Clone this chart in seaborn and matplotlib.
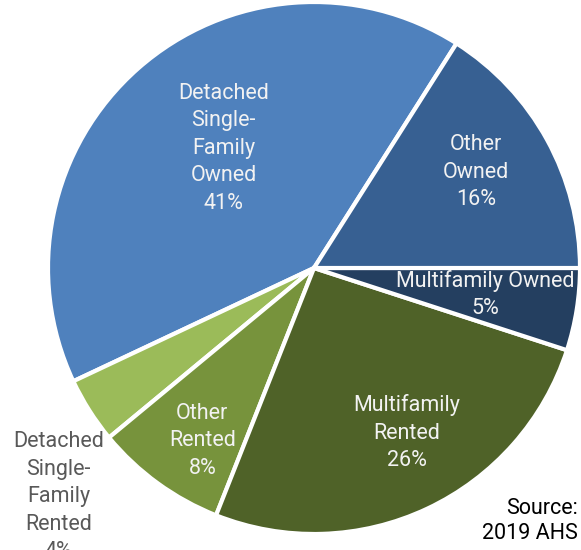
"""Housing stock by tenure and structure type (2019 AHS) as a pie chart."""

import matplotlib
matplotlib.use("Agg")
import matplotlib.pyplot as plt
import seaborn as sns

sns.set_theme(style="white")
plt.rcParams['font.family'] = ['Roboto', 'DejaVu Sans']

# Data, counter-clockwise from the top-right boundary
categories = [
    "Detached\nSingle-\nFamily\nOwned",
    "Detached\nSingle-\nFamily\nRented",
    "Other\nRented",
    "Multifamily\nRented",
    "Multifamily Owned",
    "Other\nOwned",
]
shares = [41, 4, 8, 26, 5, 16]

colors = ["#4F81BD", "#9BBB59", "#77933C", "#4F6228", "#243F60", "#376092"]

# Label placement (axes data units, pie radius = 1)
label_pos = [(-0.34, 0.45), (-0.96, -0.86), (-0.42, -0.65),
             (0.35, -0.62), (0.645, -0.10), (0.61, 0.36)]
label_colors = ["#F2F2F2", "#595959", "#F2F2F2", "#F2F2F2", "#F2F2F2", "#F2F2F2"]

fig = plt.figure(figsize=(5.81, 5.5), dpi=100)
ax = fig.add_axes([48 / 581, 16 / 550, 532 / 581, 532 / 550])

ax.pie(shares, colors=colors, startangle=57.6, counterclock=True,
       wedgeprops=dict(edgecolor="white", linewidth=3))
ax.set_xlim(-1, 1)
ax.set_ylim(-1, 1)
ax.set_aspect("auto")
ax.set_axis_off()

for name, val, (x, y), col in zip(categories, shares, label_pos, label_colors):
    ax.text(x, y, f"{name}\n{val}%", ha="center", va="center", color=col,
            fontsize=15.5, linespacing=1.41, clip_on=False)

fig.text(578 / 581, 1 - 521 / 550, "Source:\n2019 AHS", ha="right", va="center",
         fontsize=15.5, color="black", linespacing=1.25)

fig.savefig("out.png", dpi=100)
